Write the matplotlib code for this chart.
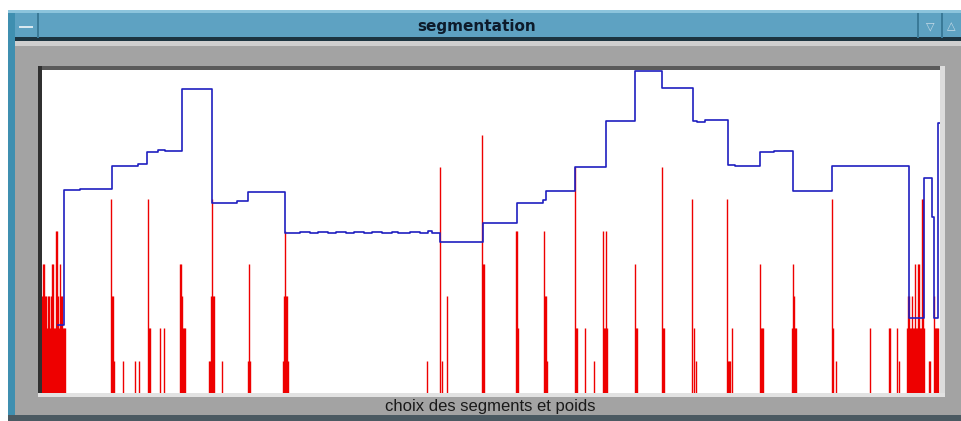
import matplotlib
matplotlib.use("Agg")
import matplotlib.pyplot as plt
from matplotlib.patches import Rectangle

# Blue segmentation curve: step start index and level
seg_x = [16, 22, 38, 70, 96, 105, 116, 123, 140, 170, 195, 206, 243,
         258, 268, 276, 286, 294, 304, 312, 322, 330, 340, 350, 356, 368, 378, 386, 390,
         398, 441, 475, 501, 504, 533, 564, 593, 620, 651, 655, 663, 686, 693,
         718, 732, 751, 790, 867, 882, 890, 892, 896, 898]
seg_y = [2.10, 6.28, 6.32, 7.03, 7.09, 7.46, 7.52, 7.49, 9.41, 5.88, 5.94, 6.22, 4.95,
         4.99, 4.94, 4.98, 4.94, 4.98, 4.94, 4.98, 4.94, 4.98, 4.95, 4.99, 4.95, 4.98, 4.95, 5.00, 4.95,
         4.67, 5.26, 5.88, 5.98, 6.25, 7.00, 8.42, 9.97, 9.44, 8.42, 8.39, 8.45, 7.06, 7.03,
         7.46, 7.49, 6.25, 7.03, 2.32, 6.66, 5.45, 2.32, 8.36, 8.36]

# Red weights: sample index and weight level
w_pos = list(range(0, 24)) + [
    69, 70, 71, 72, 81, 93, 97, 106, 107, 108, 118, 122,
    138, 139, 140, 141, 142, 143, 167, 168, 169, 170, 171, 172, 180,
    206, 207, 208, 241, 242, 243, 244, 245, 246,
    385, 398, 400, 405, 440, 441, 442, 474, 475, 476,
    502, 503, 504, 505, 533, 534, 535, 543, 552,
    561, 562, 563, 564, 565, 593, 594, 595,
    620, 621, 622, 650, 652, 654, 685, 686, 687, 688, 690,
    718, 719, 720, 721, 750, 751, 752, 753, 754,
    790, 791, 794, 828, 847, 848, 855, 857] + list(range(865, 883)) + [
    887, 888, 892, 893, 894, 895, 896]
w_val = [3, 4, 4, 3, 3, 2, 3, 3, 2, 3, 4, 4, 2, 2, 5, 5, 3, 2, 4, 3, 3, 2, 2, 2] + [
    6, 3, 3, 1, 1, 1, 1, 6, 2, 2, 2, 2,
    4, 4, 3, 2, 2, 2, 1, 1, 3, 6, 3, 3, 1,
    1, 4, 1, 1, 3, 5, 3, 3, 1,
    1, 7, 1, 3, 8, 4, 4, 5, 5, 2,
    5, 3, 3, 1, 7, 2, 2, 2, 1,
    5, 2, 2, 5, 2, 4, 2, 2,
    7, 2, 2, 6, 2, 1, 6, 1, 1, 1, 2,
    4, 2, 2, 2, 2, 4, 3, 2, 2,
    6, 2, 1, 2, 2, 2, 2, 1] + [
    2, 3, 3, 2, 2, 3, 2, 2, 4, 2, 2, 4, 4, 2, 2, 6, 6, 2] + [
    1, 1, 3, 2, 2, 2, 2]

W, H = 961, 421
fig = plt.figure(figsize=(W / 100, H / 100), dpi=100)
fig.patch.set_facecolor('white')


# window frame drawn in pixel coordinates
def box(x0, y0, x1, y1, color):
    fig.patches.append(Rectangle((x0 / W, 1 - y1 / H), (x1 - x0) / W, (y1 - y0) / H,
                                 transform=fig.transFigure, facecolor=color,
                                 edgecolor='none', zorder=0))


box(8, 10, 961, 421, '#3f8fb0')
box(15, 40, 961, 421, '#a3a3a3')
box(15, 13, 961, 39, '#5ea2c2')
box(8, 10, 961, 13, '#8cc4dc')
box(15, 37, 961, 41, '#1c3440')
box(37, 13, 39, 38, '#3a7a98')
box(19, 26, 33, 28, '#d8e8f0')
box(917, 13, 919, 38, '#3a7a98')
box(941, 13, 943, 38, '#3a7a98')
box(15, 41, 961, 46, '#cfcfcf')
box(38, 66, 940, 70, '#5a5a5a')
box(38, 66, 42, 395, '#303030')
box(940, 66, 945, 397, '#dcdcdc')
box(38, 393, 945, 397, '#e2e2e2')
box(42, 70, 940, 393, 'white')
box(8, 415, 961, 421, '#4b5a62')

fig.text(477 / W, 1 - 27 / H, 'segmentation', ha='center', va='center',
         fontsize=11, fontweight='bold', color='#0d1b2a')
fig.text(930 / W, 1 - 26 / H, '\u25bd', ha='center', va='center',
         fontsize=8, color='#c8dce8')
fig.text(951 / W, 1 - 26 / H, '\u25b3', ha='center', va='center',
         fontsize=8, color='#c8dce8')
fig.text(490 / W, 1 - 407 / H, 'choix des segments et poids', ha='center', va='center',
         fontsize=12, color='#1a1a1a', family=['Liberation Sans', 'DejaVu Sans'])

ax = fig.add_axes([42 / W, 1 - 393 / H, 898 / W, 323 / H])
ax.set_zorder(2)
ax.patch.set_alpha(0)
ax.vlines(w_pos, 0, w_val, colors='#ee0000', linewidth=1.0, zorder=2)
ax.step(seg_x, seg_y, where='post', color='#1f1fc0', linewidth=1.2, zorder=3)
ax.set_xlim(0, 898)
ax.set_ylim(0, 10)
ax.axis('off')

fig.savefig('out.png', dpi=100)
